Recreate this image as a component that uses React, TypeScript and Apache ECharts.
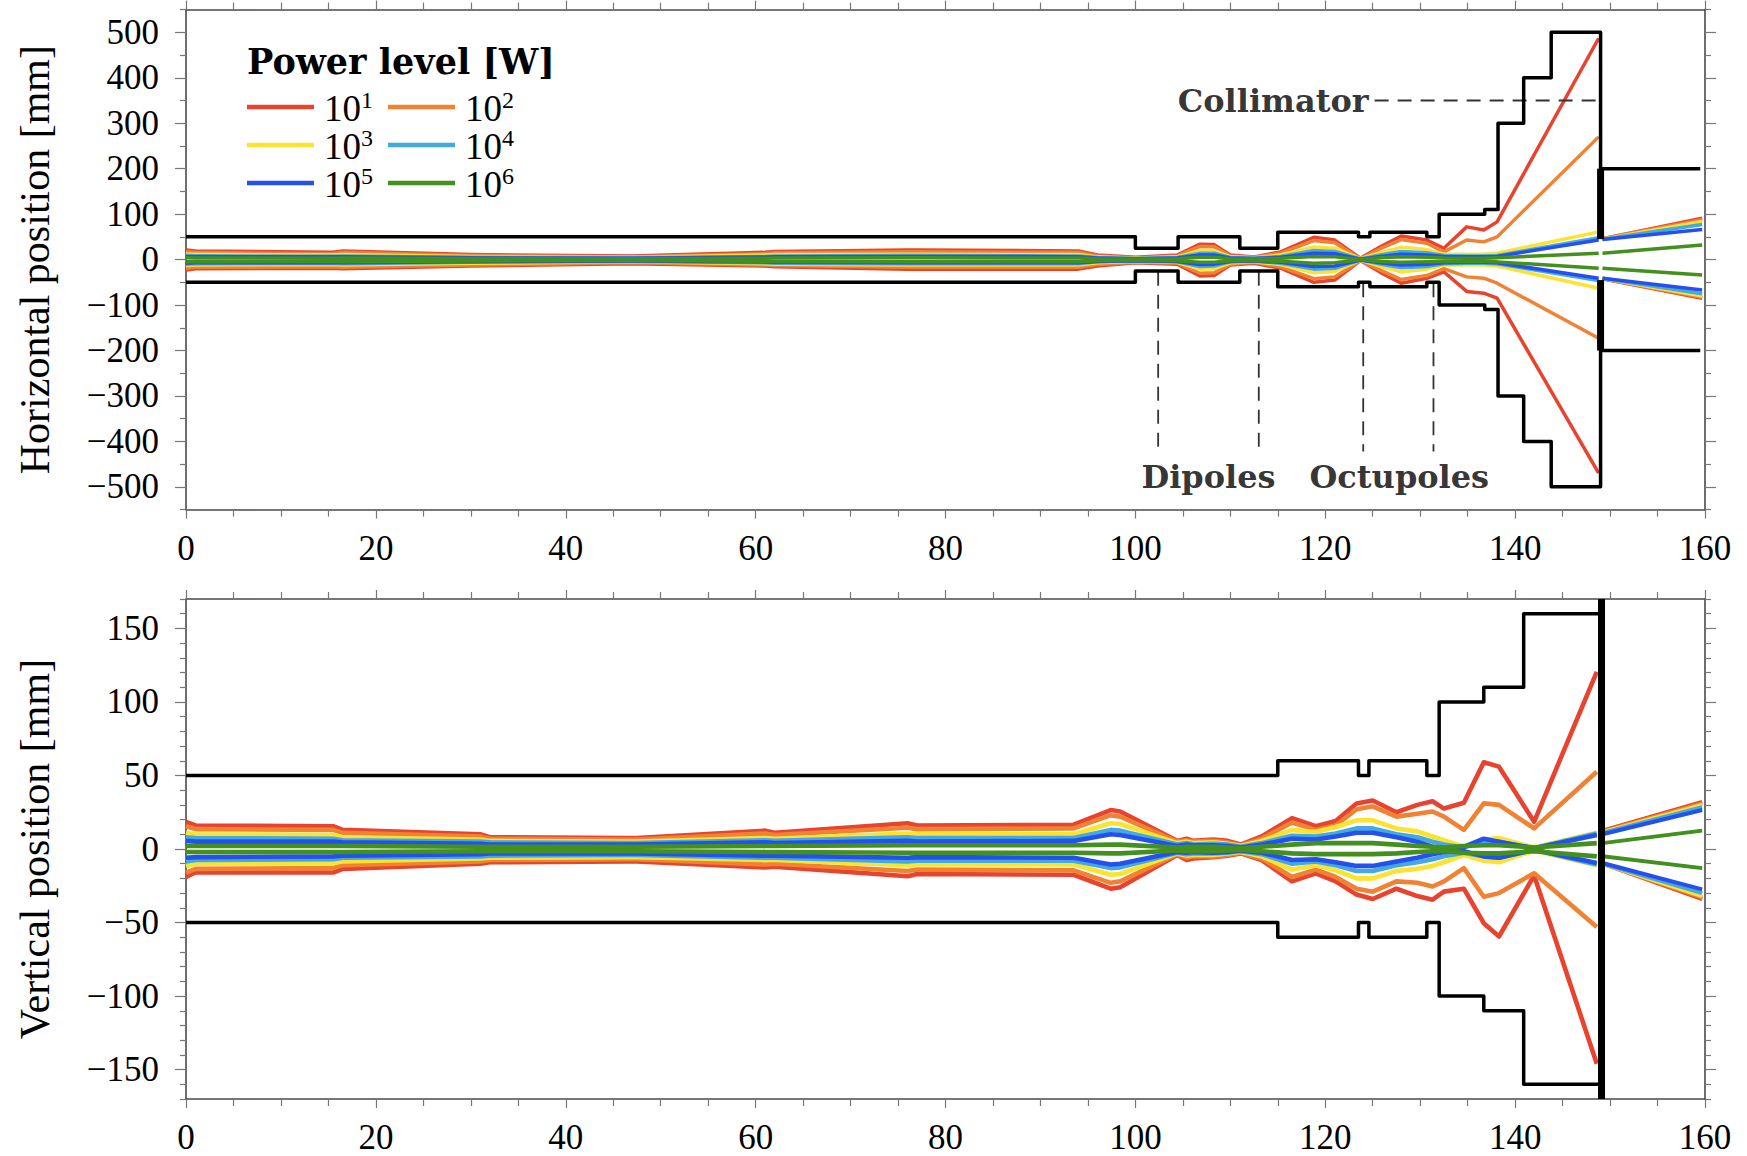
import React, { useEffect, useRef } from 'react';
import * as echarts from 'echarts';

const SERIF = "'Liberation Serif', 'Times New Roman', serif";
const SERIF_BOLD = "'DejaVu Serif', 'Liberation Serif', serif";

// ---- axes ----
const X_RANGE = [0, 160];
const H_RANGE = [-550, 550];
const V_RANGE = [-170, 170];
const H_MAJOR_TICKS = [-500, -400, -300, -200, -100, 0, 100, 200, 300, 400, 500];
const H_MINOR_TICKS = [-550, -450, -350, -250, -150, -50, 50, 150, 250, 350, 450, 550];
const V_MAJOR_TICKS = [-150, -100, -50, 0, 50, 100, 150];
const V_MINOR_TICKS = [-170, -160, -140, -130, -120, -110, -90, -80, -70, -60, -40, -30, -20, -10,
  10, 20, 30, 40, 60, 70, 80, 90, 110, 120, 130, 140, 160, 170];

// ---- power levels ----
const POWER_EXPONENTS = ['1', '2', '3', '4', '5', '6'];
const COLORS = ['#e8432f', '#f08234', '#fbe330', '#43a9e0', '#2450ee', '#43901f'];

// ---- horizontal plane: beam envelopes [mm] vs position [m] ----
const H_X = [0, 1, 15.5, 16.5, 30, 47, 61, 62, 76, 77, 94, 96, 100, 104.4, 106.8, 108.3, 110, 112.5, 115.3,
  118.8, 121, 123.7, 125.8, 128, 130.7, 132.5, 134.9, 136.7, 138.1, 148.8];
const H_RED_UP = [21, 19, 16, 19, 11, 8, 16, 18, 21, 21, 19, 10, 5, 10, 34, 33, 10, 6, 17, 49, 43, 3, 28, 52, 43, 25, 72, 65, 83, 487];
const H_RED_LO = [-23, -20, -19, -20, -14, -9, -14, -16, -21, -21, -21, -14, -7, -10, -36, -35, -12, -8, -19, -50, -45, -2, -28, -52, -41, -27, -70, -74, -85, -470];
const H_ORA_UP = [17, 16, 13, 16, 9, 6, 13, 15, 17, 17, 16, 8, 4, 8, 29, 28, 8, 5, 14, 42, 37, 2, 24, 44, 36, 17, 43, 39, 50, 270];
const H_ORA_LO = [-19, -17, -16, -17, -12, -7, -12, -13, -17, -17, -17, -11, -6, -8, -30, -29, -10, -6, -16, -42, -38, -2, -23, -44, -35, -20, -38, -41, -52, -173];
const H_YEL_UP = [12, 11.5, 10, 11, 7, 5, 10, 11, 12, 12, 11, 6, 3, 6, 20, 20, 6, 4, 10, 28, 25, 2, 15, 27, 22, 12, 12, 12, 14, 61];
const H_YEL_LO = [-13, -12, -11, -12, -8, -5, -9, -10, -12, -12, -12, -7, -4, -6, -21, -20, -7, -5, -11, -29, -26, -1, -15, -27, -21, -12, -12, -12, -14, -63];
const H_LBL_UP = [9, 8.5, 7.5, 8, 5, 4, 7, 8, 9, 9, 8, 4.5, 2.5, 4.5, 14, 14, 4.5, 3, 7, 20, 18, 1.5, 10, 18, 15, 9, 8, 8, 9, 48];
const H_LBL_LO = [-10, -9, -8, -9, -6, -4, -7, -8, -9, -9, -9, -5, -3, -5, -15, -14, -5, -3.5, -8, -21, -19, -1, -10, -18, -15, -9, -8, -8, -9, -46];
const H_BLU_UP = [7, 6.5, 6, 6.5, 4, 3, 5.5, 6, 7, 7, 6.5, 3.5, 2, 3.5, 10, 10, 3.5, 2.5, 5, 14, 13, 1, 7, 12, 10, 7, 6, 6, 7, 43];
const H_BLU_LO = [-8, -7, -6.5, -7, -4.5, -3, -5.5, -6, -7, -7, -7, -4, -2.5, -4, -11, -10, -4, -3, -6, -15, -14, -1, -7, -12, -10, -7, -6, -6, -7, -41];
const H_GRN_UP = [4, 3.5, 3, 3.5, 2.5, 2, 3, 3.5, 4, 4, 3.5, 2, 1, 2, 5, 5, 2, 1.5, 3, 7, 6, 0.5, 4, 6, 5, 3.5, 3, 3, 4, 14];
const H_GRN_LO = [-5, -4.5, -4, -4.5, -3, -2, -3.5, -4, -5, -5, -4.5, -2.5, -1.5, -2.5, -6, -6, -2.5, -2, -3.5, -8, -7, -0.5, -4, -6, -5, -4, -4, -4, -5, -19];

// downstream of the collimator
const H_DOWN_X = [149.2, 159.7];
const H_RED_DN_UP = [46, 91];
const H_RED_DN_LO = [-42, -85];
const H_ORA_DN_UP = [46, 88];
const H_ORA_DN_LO = [-42, -83];
const H_YEL_DN_UP = [45, 84];
const H_YEL_DN_LO = [-41, -80];
const H_LBL_DN_UP = [45, 77];
const H_LBL_DN_LO = [-41, -75];
const H_BLU_DN_UP = [44, 66];
const H_BLU_DN_LO = [-41, -67];
const H_GRN_DN_UP = [14, 32];
const H_GRN_DN_LO = [-19, -34];

// ---- vertical plane ----
const V_X = [0, 1, 15.5, 16.5, 31, 32, 46.4, 47.5, 61, 62, 76, 77, 93.5, 97.4, 98.4, 104.4, 105.4, 106.1, 108.2,
  109.7, 111.1, 113.3, 116.5, 119, 121.1, 123.3, 125, 127.5, 129.7, 131.3, 132.5, 134.6, 136.7, 138.3, 142, 148.6];
const V_RED_UP = [18.5, 16, 15.5, 13, 10, 8, 7.5, 7.5, 12.5, 11, 17.5, 16, 16.5, 26.5, 25.5, 5.5, 7, 5.5, 6.5, 5.5, 3, 8.5, 21, 15.5, 19, 31, 33, 25, 30, 32.5, 27.5, 31.5, 59, 56, 18.5, 120.5];
const V_RED_LO = [-19, -16, -16, -13.5, -10, -9, -8.5, -8.5, -12.5, -12, -18.5, -17, -17.5, -27, -26, -4, -7.5, -6.5, -5.5, -4.5, -3, -7.5, -22, -16.5, -22, -31, -34, -27, -32, -34.5, -29, -27, -50.5, -59.5, -18, -146];
const V_ORA_UP = [15.5, 13.5, 13, 11, 8.5, 7, 6.5, 6.5, 10.5, 9.5, 14.5, 13.5, 14, 23, 22, 5, 6, 5, 5.5, 4.5, 2.5, 7, 18, 13, 16, 27, 29, 22, 24, 25.5, 22, 13, 31, 30, 14, 52.5];
const V_ORA_LO = [-16, -13.5, -13, -11, -8.5, -7.5, -7, -7, -10.5, -10, -15, -14, -14.5, -23, -22, -3.5, -6, -5, -5, -4, -2.5, -6.5, -19, -14, -19, -27, -29, -22, -23, -25.5, -22, -13, -32.5, -30, -16.5, -53];
const V_YEL_UP = [11, 10, 9.5, 8, 6.5, 5.5, 5, 5, 7.5, 7, 10.5, 10, 10, 17.5, 17, 4, 5, 4, 4.5, 3.5, 2, 5.5, 13, 11.5, 15, 19.5, 19.5, 14, 12, 8.5, 6, 1.5, 6.5, 7.5, 1, 11];
const V_YEL_LO = [-11.5, -10, -9.5, -8.5, -6.5, -6, -5.5, -5.5, -7.5, -7.5, -11, -10.5, -10.5, -17.5, -17, -3, -4.5, -4, -4, -3, -2, -5, -14, -11, -14.5, -20, -20, -15, -13.5, -11.5, -9, -4, -8, -9, -1, -11];
const V_LBL_UP = [8, 7.5, 7, 6, 5, 4.5, 4, 4, 6, 5.5, 8, 7.5, 7.5, 13, 12.5, 3, 4, 3, 3.5, 3, 1.5, 4, 9, 8.5, 10.5, 14, 14, 10, 8, 5, 3, 1, 5.5, 5, 0.5, 10.5];
const V_LBL_LO = [-8.5, -7.5, -7, -6, -5, -4.5, -4, -4, -6, -6, -8.5, -8, -8, -13, -12.5, -2.5, -3.5, -3, -3, -2.5, -1.5, -3.5, -10, -8.5, -11, -15, -15, -11, -9, -7, -5, -2.5, -5, -6, -0.5, -10.5];
const V_BLU_UP = [5.5, 5, 5, 4.5, 3.5, 3, 3, 3, 4.5, 4, 5.5, 5, 5.5, 10, 9.5, 2, 3, 2.5, 2.5, 2, 1, 3, 7, 6.5, 8.5, 11, 11, 8, 5, 1.5, 0.5, 1.5, 7, 5, 0.5, 9.5];
const V_BLU_LO = [-6, -5.5, -5, -4.5, -3.5, -3, -3, -3, -4.5, -4.5, -6, -5.5, -6, -10.5, -10, -2, -2.5, -2, -2.5, -2, -1, -2.5, -7.5, -7, -9, -11.5, -11.5, -8.5, -6, -3.5, -2, -1.5, -5, -6, -0.5, -9.5];
const V_GRN_UP = [2, 2, 2, 2, 1.5, 1.5, 1.5, 1.5, 2, 2, 2.5, 2.5, 2.5, 3, 3, 1, 1.5, 1.5, 1.5, 1, 0.5, 1.5, 3, 4, 4, 4, 4, 3, 2, 1.5, 1, 2, 2.5, 2.5, 1, 4];
const V_GRN_LO = [-2, -2, -2, -2, -1.5, -1.5, -1.5, -1.5, -2, -2, -2.5, -2.5, -2.5, -3, -3, -1, -1.5, -1.5, -1.5, -1, -0.5, -1.5, -3, -3.5, -3.5, -3.5, -3.5, -3, -2, -1.5, -1.5, -2.5, -3, -3, -1.5, -5];

const V_DOWN_X = [149.2, 159.7];
const V_RED_DN_UP = [12.5, 32];
const V_RED_DN_LO = [-10, -34];
const V_ORA_DN_UP = [12, 31];
const V_ORA_DN_LO = [-10, -33];
const V_YEL_DN_UP = [11.5, 30];
const V_YEL_DN_LO = [-10, -32];
const V_LBL_DN_UP = [11, 28.5];
const V_LBL_DN_LO = [-10, -30];
const V_BLU_DN_UP = [10, 26.5];
const V_BLU_DN_LO = [-9.5, -27.5];
const V_GRN_DN_UP = [4, 12.5];
const V_GRN_DN_LO = [-5, -13];

// ---- beam pipe apertures ----
const H_AP_X = [0, 100, 100, 104.5, 104.5, 111, 111, 115, 115, 123.5, 123.5, 124.7, 124.7, 130.7, 130.7, 132, 132,
  136.8, 136.8, 138.2, 138.2, 140.9, 140.9, 143.8, 143.8, 149, 149, 159.5];
const H_AP_UP = [50, 50, 25, 25, 50, 50, 25, 25, 60, 60, 50, 50, 60, 60, 50, 50, 100, 100, 110, 110, 300, 300, 400, 400, 500, 500, 200, 200];
const H_AP_LO = [-50, -50, -25, -25, -50, -50, -25, -25, -60, -60, -50, -50, -60, -60, -50, -50, -100, -100, -110, -110, -300, -300, -400, -400, -500, -500, -200, -200];
const H_JAW_X = [149, 149];
const H_JAW_UP = [200, 45];
const H_JAW_LO = [-45, -200];

const V_AP_X = [0, 115, 115, 123.5, 123.5, 124.6, 124.6, 130.7, 130.7, 132, 132, 136.7, 136.7, 140.9, 140.9, 149];
const V_AP_UP = [50, 50, 60, 60, 50, 50, 60, 60, 50, 50, 100, 100, 110, 110, 160, 160];
const V_AP_LO = [-50, -50, -60, -60, -50, -50, -60, -60, -50, -50, -100, -100, -110, -110, -160, -160];
const V_JAW_X = [149.1, 149.1];
const V_JAW_Y = [-170, 170];

// ---- annotations (horizontal plane) ----
const MAGNET_MARK_X = [102.4, 113, 124, 131.4];
const MAGNET_MARK_TOP = [-27, -27, -52, -52];
const MAGNET_MARK_BOTTOM = -422;
const COLLIMATOR_MARK_X = [125.2, 149];
const COLLIMATOR_MARK_Y = 350;
const LABEL_TEXTS = ['Dipoles', 'Octupoles', 'Collimator'];
const LABEL_X = [107.7, 127.8, 125.2];
const LABEL_Y = [-478, -478, 350];

const LEVELS = [
  { h: [H_RED_UP, H_RED_LO], hd: [H_RED_DN_UP, H_RED_DN_LO], v: [V_RED_UP, V_RED_LO], vd: [V_RED_DN_UP, V_RED_DN_LO] },
  { h: [H_ORA_UP, H_ORA_LO], hd: [H_ORA_DN_UP, H_ORA_DN_LO], v: [V_ORA_UP, V_ORA_LO], vd: [V_ORA_DN_UP, V_ORA_DN_LO] },
  { h: [H_YEL_UP, H_YEL_LO], hd: [H_YEL_DN_UP, H_YEL_DN_LO], v: [V_YEL_UP, V_YEL_LO], vd: [V_YEL_DN_UP, V_YEL_DN_LO] },
  { h: [H_LBL_UP, H_LBL_LO], hd: [H_LBL_DN_UP, H_LBL_DN_LO], v: [V_LBL_UP, V_LBL_LO], vd: [V_LBL_DN_UP, V_LBL_DN_LO] },
  { h: [H_BLU_UP, H_BLU_LO], hd: [H_BLU_DN_UP, H_BLU_DN_LO], v: [V_BLU_UP, V_BLU_LO], vd: [V_BLU_DN_UP, V_BLU_DN_LO] },
  { h: [H_GRN_UP, H_GRN_LO], hd: [H_GRN_DN_UP, H_GRN_DN_LO], v: [V_GRN_UP, V_GRN_LO], vd: [V_GRN_DN_UP, V_GRN_DN_LO] },
];

const pairs = (xs: number[], ys: number[]) => xs.map((x, i) => [x, ys[i]]);

const minusFmt = (v: number) => (v < 0 ? `\u2212${-v}` : `${v}`);

const FRAME = { color: '#4a4a4a', width: 1.6 };
const TICK = { color: '#777', width: 1.2 };

function xAxes(gridIndex: number) {
  const base = (position: 'top' | 'bottom', showLabel: boolean) => ({
    type: 'value', gridIndex, position, min: X_RANGE[0], max: X_RANGE[1], interval: 20,
    axisLine: { show: true, onZero: false, lineStyle: FRAME },
    axisTick: { show: true, inside: false, length: 9, lineStyle: TICK },
    minorTick: { show: true, splitNumber: 4, length: 7, lineStyle: TICK },
    axisLabel: { show: showLabel, margin: 21, fontFamily: SERIF, fontSize: 35, color: '#000' },
    splitLine: { show: false },
    minorSplitLine: { show: false },
  });
  return [base('bottom', true), base('top', false)];
}

function yAxes(gridIndex: number, range: number[], major: number[], minor: number[]) {
  const majorAxis = (position: 'left' | 'right', showLabel: boolean) => ({
    type: 'value', gridIndex, position, min: range[0], max: range[1],
    axisLine: { show: true, onZero: false, lineStyle: FRAME },
    axisTick: { show: true, inside: false, length: 11, lineStyle: TICK, customValues: major },
    axisLabel: { show: showLabel, customValues: major, formatter: minusFmt, margin: 27, fontFamily: SERIF, fontSize: 35, color: '#000' },
    splitLine: { show: false },
  });
  const minorAxis = (position: 'left' | 'right') => ({
    type: 'value', gridIndex, position, min: range[0], max: range[1],
    axisLine: { show: false, onZero: false },
    axisTick: { show: true, inside: false, length: 6, lineStyle: TICK, customValues: minor },
    axisLabel: { show: false },
    splitLine: { show: false },
  });
  return [majorAxis('left', true), minorAxis('left'), majorAxis('right', false), minorAxis('right')];
}

function lineSeries(data: number[][], xAxisIndex: number, yAxisIndex: number, color: string, width: number, z: number, dash?: number[]) {
  return {
    type: 'line', xAxisIndex, yAxisIndex, data, symbol: 'none', silent: true, z,
    lineStyle: { color, width, join: 'round', cap: 'butt', type: dash || 'solid' },
    itemStyle: { color },
  };
}

function buildOption() {
  const series: any[] = [];
  // beam envelopes, lowest power drawn first
  LEVELS.forEach((lvl, i) => {
    const c = COLORS[i];
    const z = 2 + i * 0.1;
    series.push(lineSeries(pairs(H_X, lvl.h[0]), 0, 0, c, 3.5, z));
    series.push(lineSeries(pairs(H_X, lvl.h[1]), 0, 0, c, 3.5, z));
    series.push(lineSeries(pairs(H_DOWN_X, lvl.hd[0]), 0, 0, c, 3.5, z));
    series.push(lineSeries(pairs(H_DOWN_X, lvl.hd[1]), 0, 0, c, 3.5, z));
    series.push(lineSeries(pairs(V_X, lvl.v[0]), 2, 4, c, 4.6, z));
    series.push(lineSeries(pairs(V_X, lvl.v[1]), 2, 4, c, 4.6, z));
    series.push(lineSeries(pairs(V_DOWN_X, lvl.vd[0]), 2, 4, c, 4, z));
    series.push(lineSeries(pairs(V_DOWN_X, lvl.vd[1]), 2, 4, c, 4, z));
  });

  // apertures and collimator jaws
  series.push(lineSeries(pairs(H_AP_X, H_AP_UP), 0, 0, '#000', 3.5, 5));
  series.push(lineSeries(pairs(H_AP_X, H_AP_LO), 0, 0, '#000', 3.5, 5));
  series.push(lineSeries(pairs(H_JAW_X, H_JAW_UP), 0, 0, '#000', 7, 5));
  series.push(lineSeries(pairs(H_JAW_X, H_JAW_LO), 0, 0, '#000', 7, 5));
  series.push(lineSeries(pairs(V_AP_X, V_AP_UP), 2, 4, '#000', 3.5, 5));
  series.push(lineSeries(pairs(V_AP_X, V_AP_LO), 2, 4, '#000', 3.5, 5));
  series.push(lineSeries(pairs(V_JAW_X, V_JAW_Y), 2, 4, '#000', 7, 5));

  // dashed markers
  MAGNET_MARK_X.forEach((x, i) => {
    series.push(lineSeries([[x, MAGNET_MARK_TOP[i]], [x, MAGNET_MARK_BOTTOM]], 0, 0, '#333', 1.8, 4, [14, 9]));
  });
  series.push(lineSeries(COLLIMATOR_MARK_X.map((x) => [x, COLLIMATOR_MARK_Y]), 0, 0, '#333', 1.8, 4, [14, 9]));

  // annotation texts
  LABEL_TEXTS.forEach((t, i) => {
    series.push({
      type: 'scatter', xAxisIndex: 0, yAxisIndex: 0, silent: true, z: 6,
      symbolSize: 0, itemStyle: { color: 'transparent' },
      data: [[LABEL_X[i], LABEL_Y[i]]],
      label: {
        show: true, formatter: t,
        position: t === 'Collimator' ? 'left' : 'inside', distance: 6,
        fontFamily: SERIF_BOLD, fontWeight: 'bold', fontSize: 32, color: '#000',
      },
    });
  });

  // legend and axis titles
  const graphic: any[] = [
    {
      type: 'text', x: 35, y: 259.6, rotation: Math.PI / 2,
      style: { text: 'Horizontal position [mm]', fontFamily: SERIF, fontSize: 42, fill: '#000', align: 'center', verticalAlign: 'middle' },
    },
    {
      type: 'text', x: 35, y: 849, rotation: Math.PI / 2,
      style: { text: 'Vertical position [mm]', fontFamily: SERIF, fontSize: 42, fill: '#000', align: 'center', verticalAlign: 'middle' },
    },
    {
      type: 'text', x: 247, y: 61,
      style: { text: 'Power level [W]', fontFamily: SERIF_BOLD, fontWeight: 'bold', fontSize: 35, fill: '#000', align: 'left', verticalAlign: 'middle' },
    },
  ];
  POWER_EXPONENTS.forEach((e, i) => {
    const col = i % 2;
    const row = Math.floor(i / 2);
    const x0 = 247 + col * 141;
    const y = 107 + row * 38;
    graphic.push({ type: 'line', shape: { x1: x0, y1: y, x2: x0 + 67, y2: y }, style: { stroke: COLORS[i], lineWidth: 4.5 } });
    graphic.push({
      type: 'text', x: x0 + 77, y: y + 1,
      style: {
        text: `10{s|${e}}`, fontFamily: SERIF, fontSize: 37, lineHeight: 40, fill: '#000', align: 'left', verticalAlign: 'middle',
        rich: { s: { fontFamily: SERIF, fontSize: 24, verticalAlign: 'top', fill: '#000' } },
      },
    });
  });

  return {
    animation: false,
    backgroundColor: '#fff',
    textStyle: { fontFamily: SERIF },
    grid: [
      { left: 186, top: 9.6, width: 1519, height: 500 },
      { left: 186, top: 599, width: 1519, height: 500 },
    ],
    xAxis: [...xAxes(0), ...xAxes(1)],
    yAxis: [...yAxes(0, H_RANGE, H_MAJOR_TICKS, H_MINOR_TICKS), ...yAxes(1, V_RANGE, V_MAJOR_TICKS, V_MINOR_TICKS)],
    series,
    graphic,
  };
}

export default function App() {
  const ref = useRef<HTMLDivElement>(null);
  useEffect(() => {
    const chart = echarts.init(ref.current as HTMLDivElement, null, { renderer: 'svg' });
    chart.setOption(buildOption() as any);
    return () => chart.dispose();
  }, []);
  return (
    <div
      ref={ref}
      style={{ position: 'fixed', left: 0, top: 0, width: 1747, height: 1156, background: '#fff' }}
    />
  );
}
